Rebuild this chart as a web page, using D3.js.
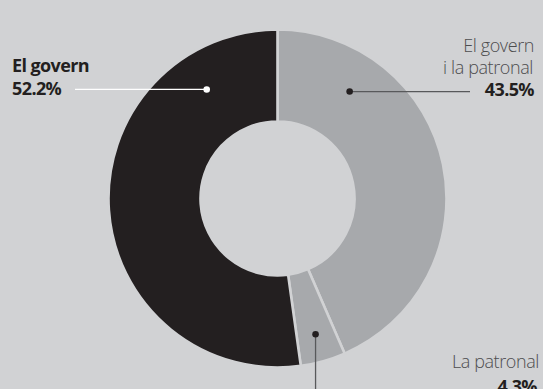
<!DOCTYPE html>
<html>
<head>
<meta charset="utf-8">
<script src="https://cdn.jsdelivr.net/npm/d3@7"></script>
<style>
  html, body { margin: 0; padding: 0; background: #d1d2d4; }
  svg { display: block; font-family: "Open Sans", sans-serif; }
</style>
</head>
<body>
<svg width="543" height="389"></svg>
<script>
// Data
var categories = ["El govern i la patronal", "La patronal", "El govern"];
var values = [43.5, 4.3, 52.2];
var valueLabels = ["43.5%", "4.3%", "52.2%"];

var svg = d3.select("svg"),
  width = +svg.attr("width"),
  height = +svg.attr("height");

var cx = 277.5, cy = 198.5;
var outerR = 169, innerR = 77;

var color = d3.scaleOrdinal()
  .domain(categories)
  .range(["#a7a9ac", "#a7a9ac", "#231f20"]);

var pie = d3.pie().sort(null).value(function (d) { return d.value; });
var arc = d3.arc().innerRadius(innerR).outerRadius(outerR);

var data = categories.map(function (c, i) {
  return { name: c, value: values[i], label: valueLabels[i] };
});
var arcs = pie(data);

var g = svg.append("g").attr("transform", "translate(" + cx + "," + cy + ")");

g.selectAll("path")
  .data(arcs)
  .enter()
  .append("path")
  .attr("d", arc)
  .attr("fill", function (d) { return color(d.data.name); })
  .attr("stroke", "#d1d2d4")
  .attr("stroke-width", 2.6);

// where each callout dot sits (angle inside the slice, radius)
var callouts = {
  "El govern i la patronal": { angle: 34, r: 129, lineTo: [470 - cx, 0], dot: "#231f20", line: "#58595b" },
  "La patronal": { angle: null, r: 141, lineTo: [0, height - cy], dot: "#231f20", line: "#58595b" },
  "El govern": { angle: -33, r: 130, lineTo: [75 - cx, 0], dot: "#ffffff", line: "#ffffff" }
};

arcs.forEach(function (d) {
  var c = callouts[d.data.name];
  var a = c.angle === null ? (d.startAngle + d.endAngle) / 2 : c.angle * Math.PI / 180;
  var px = Math.sin(a) * c.r, py = -Math.cos(a) * c.r;
  var x2 = c.lineTo[1] === 0 ? c.lineTo[0] : px;
  var y2 = c.lineTo[1] === 0 ? py : c.lineTo[1];
  g.append("line")
    .attr("x1", px).attr("y1", py)
    .attr("x2", x2).attr("y2", y2)
    .attr("stroke", c.line)
    .attr("stroke-width", 1.3);
  g.append("circle")
    .attr("cx", px).attr("cy", py)
    .attr("r", 3.3)
    .attr("fill", c.dot);
});

// Labels
var left = svg.append("text").attr("x", 12).attr("fill", "#231f20")
  .style("font-size", "18px").style("font-weight", 700).style("letter-spacing", "-0.6px");
left.append("tspan").attr("x", 12).attr("y", 72).text("El govern");
left.append("tspan").attr("x", 12).attr("y", 95).text(valueLabels[2]);

var right = svg.append("text").attr("text-anchor", "end").style("font-size", "18px").style("letter-spacing", "-0.4px");
right.append("tspan").attr("x", 534).attr("y", 52).attr("fill", "#4d4d4f").style("font-weight", 300).text("El govern");
right.append("tspan").attr("x", 533).attr("y", 74).attr("fill", "#4d4d4f").style("font-weight", 300).text("i la patronal");
right.append("tspan").attr("x", 534).attr("y", 96).attr("fill", "#231f20").style("font-weight", 700).style("letter-spacing", "-0.6px").text(valueLabels[0]);

var bottom = svg.append("text").attr("text-anchor", "end").style("font-size", "18px").style("letter-spacing", "-0.4px");
bottom.append("tspan").attr("x", 539).attr("y", 368).attr("fill", "#4d4d4f").style("font-weight", 300).text(categories[1]);
bottom.append("tspan").attr("x", 537).attr("y", 393).attr("fill", "#231f20").style("font-weight", 700).style("letter-spacing", "-0.6px").text(valueLabels[1]);
</script>
</body>
</html>
